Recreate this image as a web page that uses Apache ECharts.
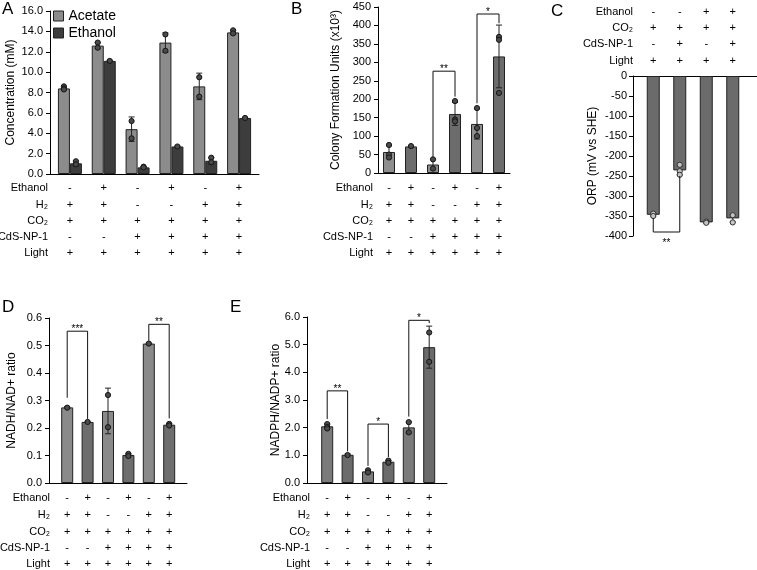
<!DOCTYPE html>
<html><head><meta charset="utf-8">
<script src="https://cdn.jsdelivr.net/npm/echarts@6/dist/echarts.min.js"></script>
<style>html,body{margin:0;padding:0;background:#fff}#c{width:757px;height:570px}</style>
</head><body><div id="c"></div><script>
// ---------------- DATA ----------------
const rowNames = ['Ethanol', 'H₂', 'CO₂', 'CdS-NP-1', 'Light'];
const rowSigns = [
  ['-', '+', '-', '+', '-', '+'],
  ['+', '+', '-', '-', '+', '+'],
  ['+', '+', '+', '+', '+', '+'],
  ['-', '-', '+', '+', '+', '+'],
  ['+', '+', '+', '+', '+', '+']
];
const rowNamesC = ['Ethanol', 'CO₂', 'CdS-NP-1', 'Light'];
const rowSignsC = [
  ['-', '-', '+', '+'],
  ['+', '+', '+', '+'],
  ['-', '+', '-', '+'],
  ['+', '+', '+', '+']
];
// axis ranges [min, max, interval]
const yRangeA = [0, 16, 2];
const yRangeB = [0, 450, 50];
const yRangeC = [-400, 0, 50];
const yRangeD = [0, 0.6, 0.1];
const yRangeE = [0, 6, 1];

// Panel A
const acetateMean = [8.4, 12.6, 4.4, 12.9, 8.6, 13.9];
const acetateSd   = [0.15, 0.3, 1.2, 0.95, 1.3, 0.2];
const acetatePts  = [[8.6, 8.4, 8.3], [12.9, 12.4], [5.2, 3.5], [13.7, 12.1], [9.5, 7.6], [14.1, 13.8]];
const ethanolMean = [1.05, 11.1, 0.65, 2.7, 1.3, 5.5];
const ethanolSd   = [0.25, 0.05, 0.08, 0.05, 0.3, 0.05];
const ethanolPts  = [[1.25, 0.95], [11.1], [0.72, 0.65], [2.7], [1.6, 1.15], [5.5]];
// Panel B
const cfuMean = [57, 72, 23, 160, 133, 316];
const cfuSd   = [17, 2, 14, 31, 41, 85];
const cfuPts  = [[76, 50, 42], [73], [37, 12], [195, 145, 140], [176, 122, 100], [369, 361, 217]];
const cfuBrackets = [[2, 3, 44, 207, 276], [4, 5, 189, 406, 431]];
const cfuStars = ['**', '*'];
// Panel C
const orpMean = [-347, -236, -366, -356];
const orpSd   = [3, 11, 2, 9];
const orpPts  = [[-344, -350], [-222, -238, -247], [-364, -367], [-348, -366]];
const orpBrackets = [[0, 1, -355, -250, -390]];
const orpStars = ['**'];
// Panel D
const nadMean = [0.275, 0.222, 0.262, 0.102, 0.507, 0.212];
const nadSd   = [0.003, 0.002, 0.083, 0.004, 0.002, 0.004];
const nadPts  = [[0.274], [0.222], [0.32, 0.203], [0.106, 0.098], [0.507], [0.215, 0.209]];
const nadBrackets = [[0, 1, 0.31, 0.233, 0.552], [4, 5, 0.517, 0.235, 0.577]];
const nadStars = ['***', '**'];
// Panel E
const nadpMean = [2.05, 1.02, 0.42, 0.77, 2.01, 4.91];
const nadpSd   = [0.08, 0.03, 0.05, 0.05, 0.2, 0.76];
const nadpPts  = [[2.13, 2.02, 1.97], [1.01], [0.46, 0.38], [0.81, 0.73], [2.2, 1.83], [5.44, 4.38]];
const nadpBrackets = [[0, 1, 2.31, 1.14, 3.33], [2, 3, 0.62, 0.94, 2.13], [4, 5, 2.4, 5.78, 5.88]];
const nadpStars = ['**', '*', '*'];

// ---------------- BUILD ----------------
const FONT = 'Liberation Sans, Arial, Helvetica, sans-serif';
const grids = [], xAxes = [], yAxes = [], series = [];

function addPanel(cfg) {
  const g = grids.length;
  grids.push({left: cfg.left, top: cfg.top, width: cfg.width, height: cfg.height, outerBoundsMode: 'none'});
  grids.push({left: cfg.axisX, top: cfg.top, width: cfg.lineWidth, height: cfg.height, outerBoundsMode: 'none'});
  const cats = cfg.rowSigns[0].map((_, i) => String(i));
  const xi = xAxes.length;
  xAxes.push({type: 'category', gridIndex: g, position: cfg.pos, data: cats,
    axisLine: {show: false, onZero: false}, axisTick: {show: false}, axisLabel: {show: false}, splitLine: {show: false}});
  xAxes.push({type: 'value', gridIndex: g + 1, position: cfg.pos, min: 0, max: 1,
    axisLine: {show: true, onZero: false, lineStyle: {color: '#000', width: 1}},
    axisTick: {show: false}, axisLabel: {show: false}, splitLine: {show: false}});
  cfg.rowNames.forEach((nm, r) => {
    xAxes.push({type: 'category', gridIndex: g, position: cfg.pos, offset: cfg.rowOffsets[r], data: cats,
      name: nm, nameLocation: 'start', nameGap: cfg.rowNameGap, nameMoveOverlap: false,
      nameTextStyle: {fontSize: 11, color: '#000', fontFamily: FONT, verticalAlign: 'middle', align: 'right'},
      axisLine: {show: false, onZero: false}, axisTick: {show: false}, splitLine: {show: false},
      axisLabel: {interval: 0, margin: 0, verticalAlign: 'middle', fontSize: 11, color: '#000', fontFamily: FONT,
        formatter: (v, i) => cfg.rowSigns[r][i]}});
  });
  const yi = yAxes.length;
  yAxes.push({type: 'value', gridIndex: g, min: cfg.y[0], max: cfg.y[1], interval: cfg.y[2],
    offset: cfg.left - cfg.axisX,
    name: cfg.yName, nameLocation: 'middle', nameGap: cfg.yNameGap, nameRotate: 90, nameMoveOverlap: false,
    nameTextStyle: {fontSize: 12, color: '#000', fontFamily: FONT},
    axisLine: {show: true, onZero: false, lineStyle: {color: '#000', width: 1}},
    axisTick: {show: true, length: 4, lineStyle: {color: '#000'}},
    axisLabel: {fontSize: 11, color: '#000', fontFamily: FONT, margin: cfg.yLabelMargin || 7,
      formatter: cfg.yFmt || (v => String(v))},
    splitLine: {show: false}});
  yAxes.push({type: 'value', gridIndex: g + 1, show: false, min: 0, max: 1});
  return {xi, yi};
}

function barSeries(ax, name, vals, colors, width, extra) {
  const color = colors.length === 1 ? colors[0] : (p => colors[p.dataIndex % colors.length]);
  return Object.assign({type: 'bar', name, xAxisIndex: ax.xi, yAxisIndex: ax.yi, data: vals,
    barWidth: width, z: 2, silent: true,
    itemStyle: {color, borderColor: '#222', borderWidth: 1}}, extra || {});
}
function errSeries(ax, mean, sd, shift) {
  return {type: 'custom', xAxisIndex: ax.xi, yAxisIndex: ax.yi, z: 4, silent: true, clip: false,
    data: mean.map((m, i) => [i, m - sd[i], m + sd[i]]),
    renderItem(params, api) {
      const lo = api.coord([api.value(0), api.value(1)]);
      const hi = api.coord([api.value(0), api.value(2)]);
      const x = lo[0] + shift, c = 3;
      const st = {stroke: '#222', lineWidth: 1};
      return {type: 'group', children: [
        {type: 'line', shape: {x1: x, y1: lo[1], x2: x, y2: hi[1]}, style: st},
        {type: 'line', shape: {x1: x - c, y1: lo[1], x2: x + c, y2: lo[1]}, style: st},
        {type: 'line', shape: {x1: x - c, y1: hi[1], x2: x + c, y2: hi[1]}, style: st}
      ]};
    }};
}
function dotSeries(ax, pts, shift, fill, stroke) {
  const data = [];
  pts.forEach((arr, i) => arr.forEach(v => data.push([i, v])));
  return {type: 'custom', xAxisIndex: ax.xi, yAxisIndex: ax.yi, z: 5, silent: true, clip: false, data,
    renderItem(params, api) {
      const p = api.coord([api.value(0), api.value(1)]);
      return {type: 'circle', shape: {cx: p[0] + shift, cy: p[1], r: 2.6},
        style: {fill, stroke, lineWidth: 1}};
    }};
}
function bracketSeries(ax, br, stars) {
  return {type: 'custom', xAxisIndex: ax.xi, yAxisIndex: ax.yi, z: 6, silent: true, clip: false,
    data: br.map(b => [b[0], b[4], b[1], b[2], b[3]]),
    renderItem(params, api) {
      const a = api.coord([api.value(0), api.value(3)]);
      const at = api.coord([api.value(0), api.value(1)]);
      const b = api.coord([api.value(2), api.value(4)]);
      const bt = api.coord([api.value(2), api.value(1)]);
      const below = at[1] > a[1];
      const st = {stroke: '#111', lineWidth: 1, fill: null};
      return {type: 'group', children: [
        {type: 'polyline', shape: {points: [[a[0], a[1]], [at[0], at[1]], [bt[0], bt[1]], [b[0], b[1]]]}, style: st},
        {type: 'text', x: (at[0] + bt[0]) / 2, y: below ? at[1] + 11 : at[1] - 2,
          style: {text: stars[params.dataIndex], align: 'center', verticalAlign: 'middle',
            font: '10px ' + FONT, fill: '#000'}}
      ]};
    }};
}

const fmt1 = v => v.toFixed(1);

// Panel A
const axA = addPanel({left: 53, top: 11, width: 203, height: 163, axisX: 50, lineWidth: 209, pos: 'bottom',
  rowNames, rowSigns, rowOffsets: [14, 31, 47, 63, 79], rowNameGap: 5,
  y: yRangeA, yFmt: fmt1, yName: 'Concentration (mM)', yNameGap: 33});
series.push(barSeries(axA, 'Acetate', acetateMean, ['#8c8c8c'], 12, {barGap: '0%'}));
series.push(barSeries(axA, 'Ethanol', ethanolMean, ['#3d3d3d'], 12, {barGap: '0%'}));
series.push(errSeries(axA, acetateMean, acetateSd, -6));
series.push(errSeries(axA, ethanolMean, ethanolSd, 6));
series.push(dotSeries(axA, acetatePts, -6, '#4a4a4a', '#151515'));
series.push(dotSeries(axA, ethanolPts, 6, '#4a4a4a', '#151515'));

// Panel B
const axB = addPanel({left: 378, top: 7, width: 132, height: 166, axisX: 378, lineWidth: 132, pos: 'bottom',
  rowNames, rowSigns, rowOffsets: [15, 32, 48, 64, 80], rowNameGap: 5,
  y: yRangeB, yName: 'Colony Formation Units (x10³)', yNameGap: 36});
series.push(barSeries(axB, 'CFU', cfuMean, ['#8e8e8e', '#6c6c6c'], 12));
series.push(errSeries(axB, cfuMean, cfuSd, 0));
series.push(dotSeries(axB, cfuPts, 0, '#4a4a4a', '#151515'));
series.push(bracketSeries(axB, cfuBrackets, cfuStars));

// Panel C
const axC = addPanel({left: 640, top: 76, width: 106, height: 160, axisX: 633, lineWidth: 124, pos: 'top',
  rowNames: rowNamesC, rowSigns: rowSignsC, rowOffsets: [64, 48, 32, 15], rowNameGap: 7,
  y: yRangeC, yName: 'ORP (mV vs SHE)', yNameGap: 34, yLabelMargin: 6});
series.push(barSeries(axC, 'ORP', orpMean, ['#6b6b6b'], 13));
series.push(errSeries(axC, orpMean, orpSd, 0));
series.push(dotSeries(axC, orpPts, 0, '#c4c4c4', '#333'));
series.push(bracketSeries(axC, orpBrackets, orpStars));

// Panel D
const axD = addPanel({left: 57, top: 318, width: 122.4, height: 165, axisX: 49, lineWidth: 138, pos: 'bottom',
  rowNames, rowSigns, rowOffsets: [15, 32, 49, 65, 81], rowNameGap: 7,
  y: yRangeD, yFmt: fmt1, yName: 'NADH/NAD+ ratio', yNameGap: 31});
series.push(barSeries(axD, 'NADH', nadMean, ['#8a8a8a', '#6e6e6e'], 12));
series.push(errSeries(axD, nadMean, nadSd, 0));
series.push(dotSeries(axD, nadPts, 0, '#4a4a4a', '#151515'));
series.push(bracketSeries(axD, nadBrackets, nadStars));

// Panel E
const axE = addPanel({left: 317, top: 317, width: 122.4, height: 166, axisX: 307, lineWidth: 140, pos: 'bottom',
  rowNames, rowSigns, rowOffsets: [15, 32, 49, 65, 81], rowNameGap: 7,
  y: yRangeE, yFmt: fmt1, yName: 'NADPH/NADP+ ratio', yNameGap: 25});
series.push(barSeries(axE, 'NADPH', nadpMean, ['#7b7b7b', '#6b6b6b'], 12));
series.push(errSeries(axE, nadpMean, nadpSd, 0));
series.push(dotSeries(axE, nadpPts, 0, '#4a4a4a', '#151515'));
series.push(bracketSeries(axE, nadpBrackets, nadpStars));

const letterStyle = t => ({text: t, font: '17px ' + FONT, fill: '#000'});
const chart = echarts.init(document.getElementById('c'), null, {renderer: 'canvas', width: 757, height: 570});
chart.setOption({
  animation: false,
  backgroundColor: '#fff',
  textStyle: {fontFamily: FONT},
  grid: grids,
  xAxis: xAxes,
  yAxis: yAxes,
  legend: {data: ['Acetate', 'Ethanol'], orient: 'vertical', left: 53, top: 9, padding: 0,
    itemWidth: 10, itemHeight: 10, itemGap: 3, icon: 'rect', selectedMode: false,
    itemStyle: {borderColor: '#222', borderWidth: 1},
    textStyle: {fontSize: 14, color: '#000', fontFamily: FONT, lineHeight: 14}},
  graphic: [
    {type: 'text', left: 2, top: 1, style: letterStyle('A')},
    {type: 'text', left: 291, top: 1, style: letterStyle('B')},
    {type: 'text', left: 551, top: 3, style: letterStyle('C')},
    {type: 'text', left: 2, top: 299, style: letterStyle('D')},
    {type: 'text', left: 230, top: 299, style: letterStyle('E')}
  ],
  series
});
</script></body></html>
